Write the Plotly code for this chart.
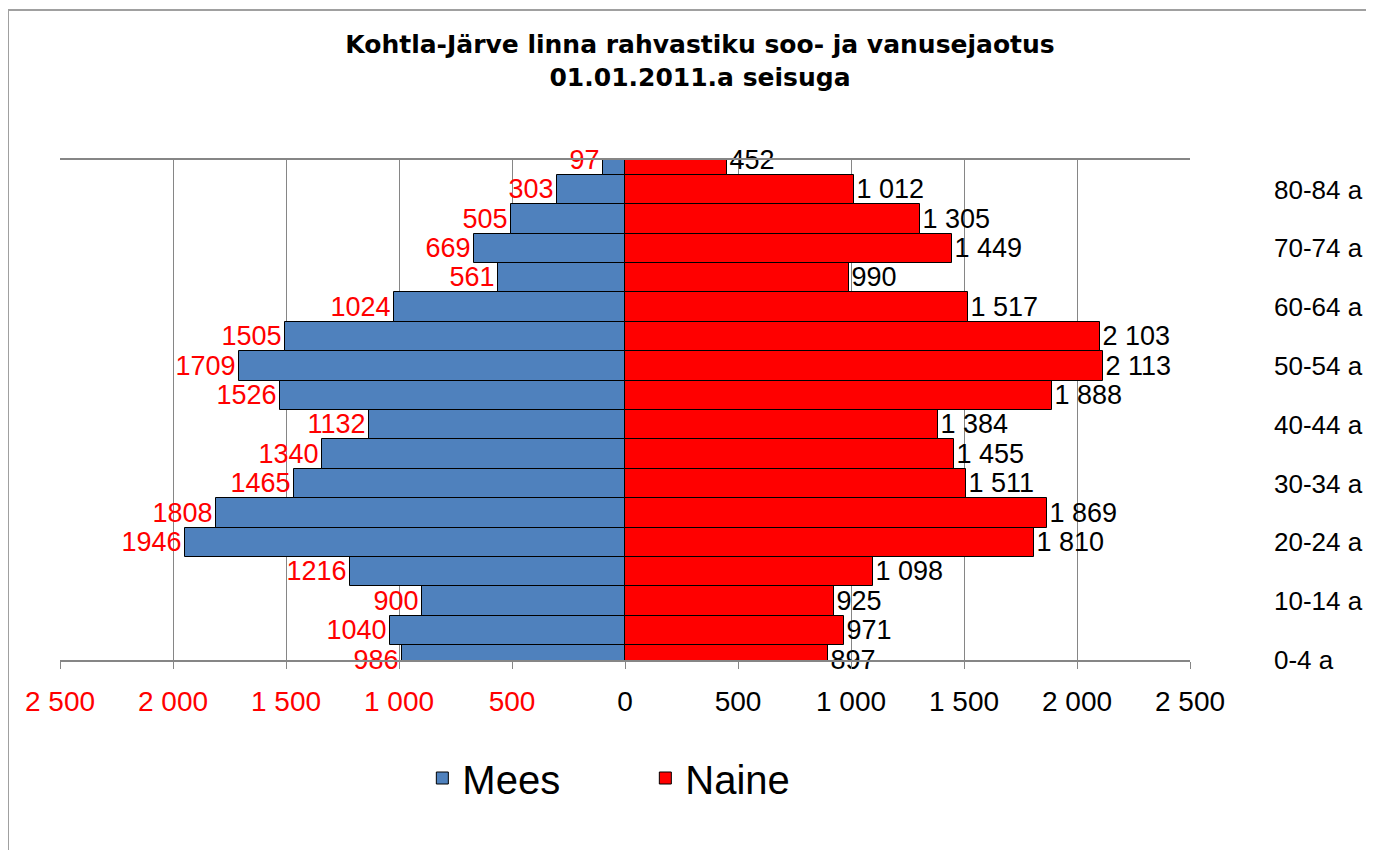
import plotly.graph_objects as go

age_groups = ["0-4 a", "5-9 a", "10-14 a", "15-19 a", "20-24 a", "25-29 a", "30-34 a",
              "35-39 a", "40-44 a", "45-49 a", "50-54 a", "55-59 a", "60-64 a", "65-69 a",
              "70-74 a", "75-79 a", "80-84 a", "85+ a"]
mees = [986, 1040, 900, 1216, 1946, 1808, 1465, 1340, 1132, 1526, 1709, 1505, 1024, 561,
        669, 505, 303, 97]
naine = [897, 971, 925, 1098, 1810, 1869, 1511, 1455, 1384, 1888, 2113, 2103, 1517, 990,
         1449, 1305, 1012, 452]
x_ticks = [-2500, -2000, -1500, -1000, -500, 0, 500, 1000, 1500, 2000, 2500]
shown_age_labels = age_groups[0:17:2]

FONT = "Liberation Sans, Arial, sans-serif"
GRID = "#868686"

W, H = 1366, 842
ML, MR, MT, MB = 52, 184, 152, 190
PW = W - ML - MR
PH = H - MT - MB


def fmt(v):
    return f"{abs(v):,}".replace(",", " ")


tick_text = [f"<span style='color:#FF0000'>{fmt(v)}</span>" if v < 0 else fmt(v) for v in x_ticks]

fig = go.Figure()
fig.add_trace(go.Bar(
    y=age_groups, x=[-v for v in mees], orientation="h", name="Mees",
    marker=dict(color="#4F81BD", line=dict(color="black", width=1)),
    text=[str(v) for v in mees], textposition="outside", constraintext="none",
    textfont=dict(color="#FF0000", size=27, family=FONT), cliponaxis=False,
))
fig.add_trace(go.Bar(
    y=age_groups, x=naine, orientation="h", name="Naine",
    marker=dict(color="#FF0000", line=dict(color="black", width=1)),
    text=[fmt(v) for v in naine], textposition="outside", constraintext="none",
    textfont=dict(color="black", size=27, family=FONT), cliponaxis=False,
))

fig.update_layout(
    width=W, height=H,
    margin=dict(l=ML, r=MR, t=MT, b=MB, autoexpand=False),
    paper_bgcolor="white", plot_bgcolor="white",
    barmode="relative", bargap=0,
    font=dict(family=FONT, color="black"),
    title=dict(text="<b>Kohtla-Järve linna rahvastiku soo- ja vanusejaotus<br>01.01.2011.a seisuga</b>",
               x=692 / W, xanchor="center", y=1 - 45 / H, yanchor="middle", yref="container",
               font=dict(size=25, family="DejaVu Sans, sans-serif", color="black")),
    xaxis=dict(range=[-2500, 2500], tickvals=x_ticks, ticktext=tick_text, automargin=False,
               showgrid=True, gridcolor=GRID, gridwidth=1, zeroline=False,
               showline=True, linecolor=GRID, linewidth=2, mirror=True,
               ticks="outside", ticklen=7, tickcolor=GRID, ticklabelstandoff=8,
               tickfont=dict(size=28, family=FONT, color="black")),
    yaxis=dict(type="category", categoryorder="array", categoryarray=age_groups,
               range=[0, 17], side="right", tickvals=shown_age_labels, automargin=False,
               showgrid=False, zeroline=False, showline=False, ticks="",
               ticklabelstandoff=83, tickfont=dict(size=26, family=FONT, color="black")),
    yaxis2=dict(overlaying="y", anchor="free", position=0.5, side="left", automargin=False,
                range=[0, 17], tickvals=[i + 0.5 for i in range(17)],
                showticklabels=False, ticks="outside", ticklen=5, tickcolor=GRID, tickwidth=2,
                showline=True, linecolor=GRID, linewidth=3, showgrid=False, zeroline=False),
    legend=dict(orientation="h", x=0.518, xanchor="center", y=-118 / PH, yanchor="middle",
                font=dict(size=40, family=FONT), entrywidth=178),
    shapes=[dict(type="rect", xref="paper", yref="paper",
                 x0=(0 - ML) / PW, x1=2, y0=-2, y1=(PH + MT - 2) / PH,
                 line=dict(color="#A0A0A0", width=2), fillcolor="rgba(0,0,0,0)", layer="below")],
)

fig.write_html("out.html")
